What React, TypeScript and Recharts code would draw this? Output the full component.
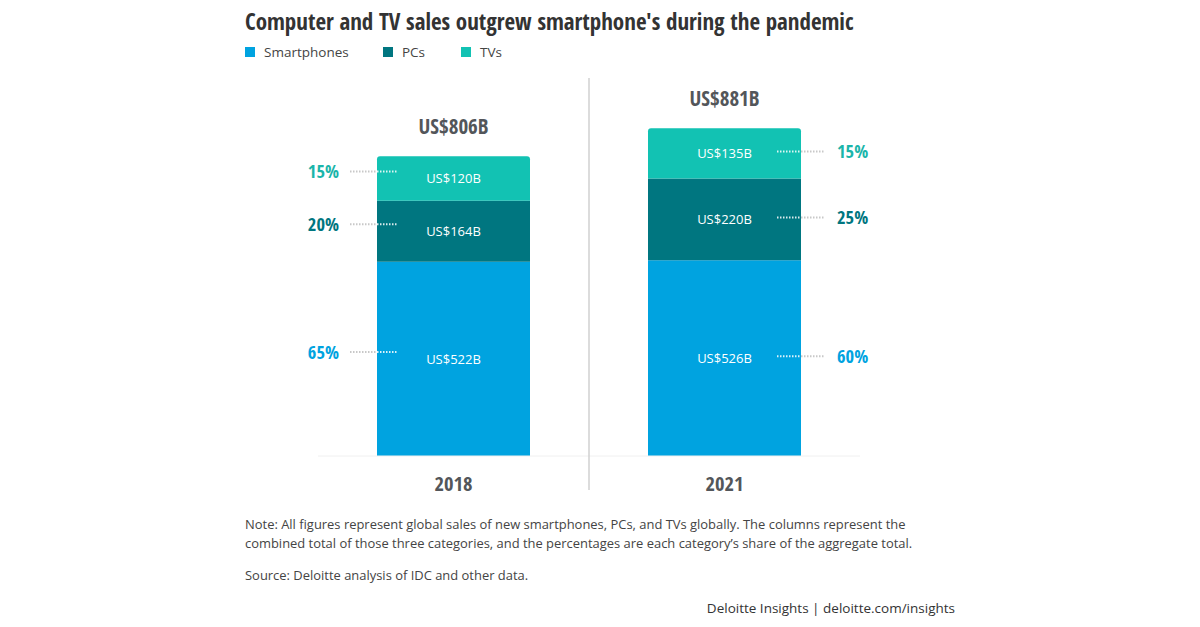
import React from 'react';
import { BarChart, Bar, XAxis, YAxis, LabelList } from 'recharts';

const years = ['2018', '2021'];
const smartphones = [522, 526];
const pcs = [164, 220];
const tvs = [120, 135];
const totals = [806, 881];
const smartphoneShare = [65, 60];
const pcShare = [20, 25];
const tvShare = [15, 15];

const C_SP = '#00A3E0';
const C_PC = '#007680';
const C_TV = '#12C2B3';
const GRAY = '#53565A';
const COND = "'Open Sans Condensed', 'Liberation Sans Narrow', 'Open Sans', sans-serif";
const SANS = "'Open Sans', sans-serif";

const data = years.map((y, i) => ({
  year: y,
  smartphones: smartphones[i],
  pcs: pcs[i],
  tvs: tvs[i],
  total: totals[i],
}));

const valueLabel = (props: any) => {
  const { x, y, width, height, value } = props;
  return (
    <text x={x + width / 2} y={y + height / 2 + 5} textAnchor="middle" fill="#ffffff"
      style={{ fontFamily: SANS, fontSize: 13 }}>
      {`US$${value}B`}
    </text>
  );
};

const shareLabel = (shares: number[], color: string) => (props: any) => {
  const { x, y, width, height, index } = props;
  const lift = index === 0 ? 7 : 2;
  const cy = y + height / 2 - lift;
  const ts = { fontFamily: COND, fontStretch: 'condensed', fontWeight: 700, fontSize: 18.5 } as any;
  if (index === 0) {
    return (
      <g>
        <line x1={x - 27} x2={x} y1={cy} y2={cy} stroke="#c8c8c8" strokeWidth={2} strokeDasharray="1.5 1.5" />
        <line x1={x} x2={x + 20} y1={cy} y2={cy} stroke="#ffffff" strokeOpacity={0.85} strokeWidth={2} strokeDasharray="1.5 1.5" />
        <text x={x - 38} y={cy + 7} textAnchor="end" fill={color} style={ts}>
          {`${shares[index]}%`}
        </text>
      </g>
    );
  }
  const r = x + width;
  return (
    <g>
      <line x1={r - 24} x2={r} y1={cy} y2={cy} stroke="#ffffff" strokeOpacity={0.85} strokeWidth={2} strokeDasharray="1.5 1.5" />
      <line x1={r} x2={r + 23} y1={cy} y2={cy} stroke="#c8c8c8" strokeWidth={2} strokeDasharray="1.5 1.5" />
      <text x={r + 36} y={cy + 7} textAnchor="start" fill={color} style={ts}>
        {`${shares[index]}%`}
      </text>
    </g>
  );
};

const totalLabel = (props: any) => {
  const { x, y, width, index } = props;
  return (
    <text x={x + width / 2} y={y - 22} textAnchor="middle" fill={GRAY}
      style={{ fontFamily: COND, fontStretch: 'condensed', fontWeight: 700, fontSize: 21 }}>
      {`US$${totals[index]}B`}
    </text>
  );
};

const legendItems = [
  { name: 'Smartphones', color: C_SP, x: 245 },
  { name: 'PCs', color: C_PC, x: 383 },
  { name: 'TVs', color: C_TV, x: 461 },
];

export default function App() {
  return (
    <div style={{ position: 'absolute', left: 0, top: 0, width: 1200, height: 627, background: '#fff' }}>
      <div style={{ position: 'absolute', left: 0, top: 0 }}>
        <BarChart width={1200} height={627} data={data}
          margin={{ top: 84, right: 340, bottom: 141, left: 318 }}>
          <YAxis hide domain={[0, 1000]} />
          <XAxis dataKey="year" height={30} tickLine={false} axisLine={{ stroke: '#f0f0f0' }} tickMargin={14}
            tick={{ fill: GRAY, fontFamily: COND, fontStretch: 'condensed', fontWeight: 700, fontSize: 20.5 } as any} />
          <Bar dataKey="smartphones" stackId="a" fill={C_SP} barSize={153} isAnimationActive={false}>
            <LabelList dataKey="smartphones" content={valueLabel} />
            <LabelList dataKey="smartphones" content={shareLabel(smartphoneShare, C_SP)} />
          </Bar>
          <Bar dataKey="pcs" stackId="a" fill={C_PC} barSize={153} isAnimationActive={false}>
            <LabelList dataKey="pcs" content={valueLabel} />
            <LabelList dataKey="pcs" content={shareLabel(pcShare, C_PC)} />
          </Bar>
          <Bar dataKey="tvs" stackId="a" fill={C_TV} barSize={153} radius={[3, 3, 0, 0]} isAnimationActive={false}>
            <LabelList dataKey="tvs" content={valueLabel} />
            <LabelList dataKey="tvs" content={shareLabel(tvShare, '#1BB5AA')} />
            <LabelList dataKey="total" content={totalLabel} />
          </Bar>
        </BarChart>
      </div>
      <svg width={1200} height={627} style={{ position: 'absolute', left: 0, top: 0, pointerEvents: 'none' }}>
        <text x={245} y={30} fill="#333" style={{ fontFamily: COND, fontStretch: 'condensed', fontWeight: 700, fontSize: 23 }}>
          Computer and TV sales outgrew smartphone's during the pandemic
        </text>
        {legendItems.map((l) => (
          <g key={l.name}>
            <rect x={l.x} y={47} width={10} height={10} fill={l.color} />
            <text x={l.x + 19} y={57} fill="#444" style={{ fontFamily: SANS, fontSize: 13.5 }}>{l.name}</text>
          </g>
        ))}
        <line x1={589} x2={589} y1={78} y2={490} stroke="#d0d0d0" strokeWidth={1.5} />
        <text x={245} y={529} fill="#444" style={{ fontFamily: SANS, fontSize: 12.95 }}>
          Note: All figures represent global sales of new smartphones, PCs, and TVs globally. The columns represent the
        </text>
        <text x={245} y={548} fill="#444" style={{ fontFamily: SANS, fontSize: 12.95 }}>
          combined total of those three categories, and the percentages are each category’s share of the aggregate total.
        </text>
        <text x={245} y={580} fill="#444" style={{ fontFamily: SANS, fontSize: 12.95 }}>
          Source: Deloitte analysis of IDC and other data.
        </text>
        <text x={955} y={613} textAnchor="end" fill="#333" style={{ fontFamily: SANS, fontSize: 13.5 }}>
          Deloitte Insights | deloitte.com/insights
        </text>
      </svg>
    </div>
  );
}
